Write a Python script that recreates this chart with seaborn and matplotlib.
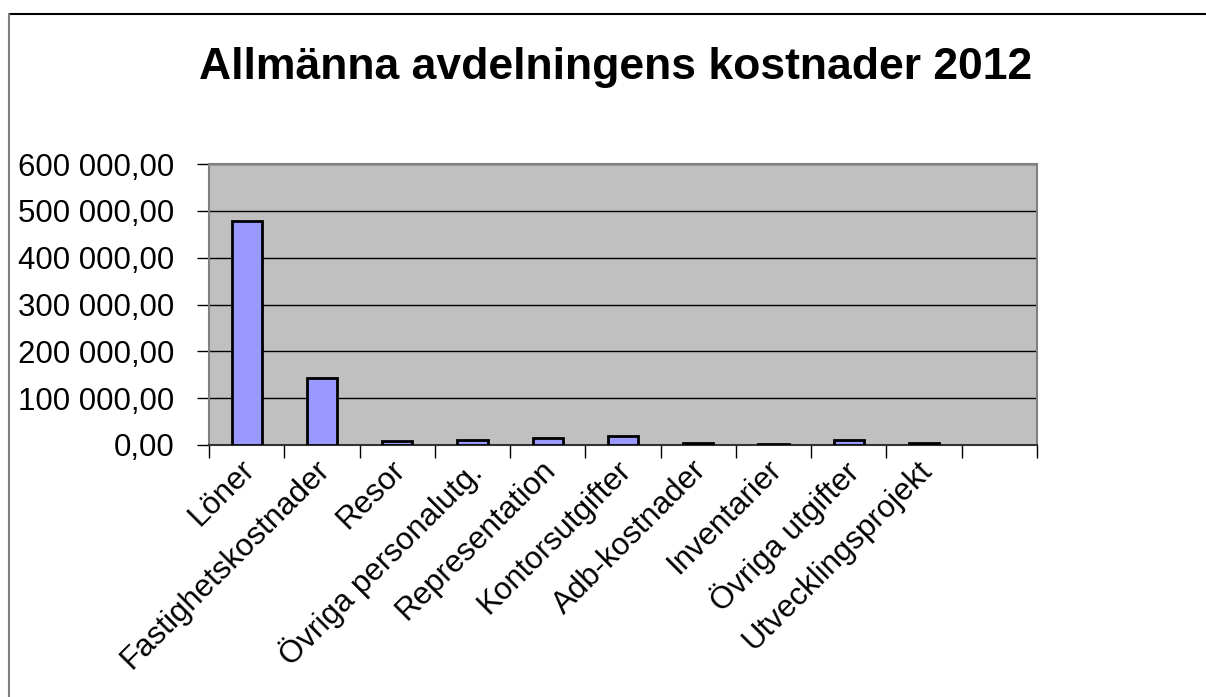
import numpy as np
import pandas as pd
import matplotlib
matplotlib.use("Agg")
import matplotlib.pyplot as plt
import matplotlib.transforms as mtransforms
import seaborn as sns
from matplotlib.ticker import FuncFormatter, FixedLocator


# Chart data
categories = ["Löner", "Fastighetskostnader", "Resor", "Övriga personalutg.",
              "Representation", "Kontorsutgifter", "Adb-kostnader",
              "Inventarier", "Övriga utgifter", "Utvecklingsprojekt"]
costs = [479000, 142500, 7700, 10000, 15000, 18500, 4500, 2000, 10500, 3500]
y_ticks = [0, 100000, 200000, 300000, 400000, 500000, 600000]

df = pd.DataFrame({"Kategori": categories, "Kostnad": costs})

sns.set_style("white")
plt.rcParams["font.family"] = ["Liberation Sans", "DejaVu Sans"]
plt.rcParams["text.color"] = "black"
plt.rcParams["xtick.color"] = "black"
plt.rcParams["ytick.color"] = "black"

fig = plt.figure(figsize=(12.06, 6.97), dpi=100)
ax = fig.add_axes([209 / 1206, 1 - 445 / 697, (1037 - 209) / 1206, (445 - 164) / 697])
ax.set_facecolor("#C0C0C0")

sns.barplot(data=df, x="Kategori", y="Kostnad", ax=ax, color="#9999FF",
            saturation=1, width=0.4, edgecolor="black", linewidth=2, zorder=3)

# One empty slot at the end, as in the original
ax.set_xlim(-0.5, len(categories) + 0.5)
ax.set_ylim(0, 600000)

ax.set_yticks(y_ticks)
ax.yaxis.set_major_formatter(FuncFormatter(lambda v, p: f"{v:,.2f}".replace(",", " ").replace(".", ",")))
ax.grid(axis="y", color="black", linewidth=1, zorder=1)
ax.set_axisbelow(True)

ax.xaxis.set_minor_locator(FixedLocator(np.arange(-0.5, len(categories) + 1, 1)))
ax.set_xticks(range(len(categories)))
ax.set_xticklabels(categories, rotation=45, ha="right", rotation_mode="anchor", fontsize=22.5)
ax.tick_params(axis="x", which="major", bottom=True, length=0, pad=7, labelcolor="black")
ax.tick_params(axis="x", which="minor", bottom=True, length=9, width=1, color="black", direction="out")
ax.tick_params(axis="y", left=True, length=9, width=1, color="black", direction="out",
               labelsize=22.5, pad=16, labelcolor="black")
ax.set_xlabel("")
ax.set_ylabel("")

# nudge the rotated labels a little to the left
shift = mtransforms.ScaledTranslation(-7 / 100, 0, fig.dpi_scale_trans)
for lbl in ax.get_xticklabels():
    lbl.set_transform(lbl.get_transform() + shift)

for side in ["left", "right", "top"]:
    ax.spines[side].set_visible(True)
    ax.spines[side].set_color("#808080")
    ax.spines[side].set_linewidth(1.5)
ax.spines["bottom"].set_color("#333333")
ax.spines["bottom"].set_linewidth(1.5)

fig.text(616 / 1206, 1 - 68 / 697, "Allmänna avdelningens kostnader 2012",
         ha="center", va="center", fontsize=32, fontweight="bold", color="black")

# Chart frame (top and left edges visible in the crop)
fig.add_artist(plt.Line2D([9 / 1206, 1], [1 - 14 / 697, 1 - 14 / 697], color="black", linewidth=1.5))
fig.add_artist(plt.Line2D([9 / 1206, 9 / 1206], [0, 1 - 14 / 697], color="#808080", linewidth=1.5))

fig.savefig("out.png", dpi=100)
